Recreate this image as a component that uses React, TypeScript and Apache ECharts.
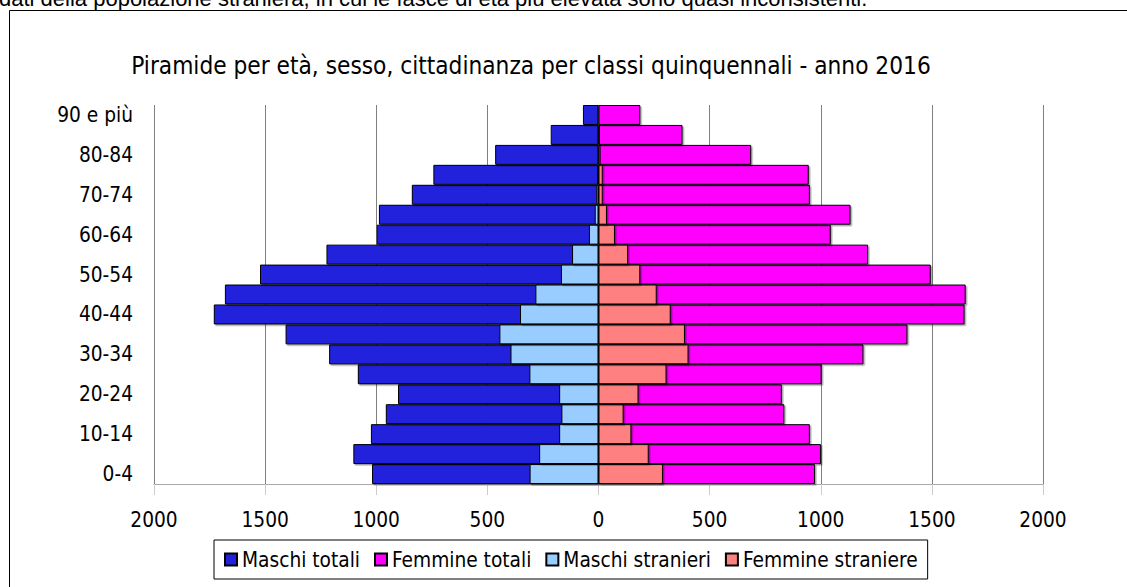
import React, { useEffect, useRef } from 'react';
import * as echarts from 'echarts';

const categories = ['0-4', '5-9', '10-14', '15-19', '20-24', '25-29', '30-34', '35-39', '40-44', '45-49', '50-54', '55-59', '60-64', '65-69', '70-74', '75-79', '80-84', '85-89', '90 e più'];
const maschiTotali = [1019, 1103, 1024, 957, 902, 1083, 1212, 1408, 1731, 1681, 1523, 1224, 998, 988, 840, 743, 465, 215, 70];
const femmineTotali = [974, 1001, 951, 836, 825, 1004, 1192, 1390, 1647, 1652, 1495, 1213, 1045, 1134, 951, 946, 687, 378, 188];
const maschiStranieri = [310, 267, 177, 167, 177, 311, 396, 446, 353, 284, 169, 119, 43, 17, 10, 5, 3, 2, 1];
const femmineStraniere = [290, 226, 148, 113, 180, 306, 405, 389, 325, 262, 188, 133, 74, 38, 19, 19, 9, 5, 2];
const seriesNames = ['Maschi totali', 'Femmine totali', 'Maschi stranieri', 'Femmine straniere'];
const seriesColors = ['#2222dd', '#ff00ff', '#99ccff', '#ff8080'];
const titleText = 'Piramide per età, sesso, cittadinanza per classi quinquennali - anno 2016';
const introText = 'dati della popolazione straniera, in cui le fasce di età più elevata sono quasi inconsistenti.';

export default function App() {
  const ref = useRef<HTMLDivElement>(null);
  useEffect(() => {
    const chart = echarts.init(ref.current as HTMLDivElement, null, { renderer: 'svg' });
    const font = "'DejaVu Sans Condensed', 'DejaVu Sans', sans-serif";
    const fs = 20.7;
    const dataSets = [
      maschiTotali.map((v) => -v),
      femmineTotali,
      maschiStranieri.map((v) => -v),
      femmineStraniere,
    ];
    chart.setOption({
      animation: false,
      textStyle: { fontFamily: font },
      graphic: [
        {
          type: 'rect',
          silent: true,
          shape: { x: 9.5, y: 10.5, width: 1200, height: 700 },
          style: { fill: 'none', stroke: '#000', lineWidth: 1 },
        },
        {
          type: 'text',
          x: -1,
          y: -1.5,
          style: { text: introText, fontFamily: "'Liberation Sans', Arial, sans-serif", fontSize: 22, fill: '#000', verticalAlign: 'middle' },
        },
        {
          type: 'text',
          x: 531,
          y: 66,
          style: { text: titleText, fontFamily: font, fontSize: 24.2, fill: '#000', align: 'center', verticalAlign: 'middle' },
        },
      ],
      legend: {
        data: seriesNames,
        left: 214,
        top: 540,
        orient: 'horizontal',
        icon: 'rect',
        itemWidth: 12,
        itemHeight: 12,
        itemGap: 14,
        padding: [9, 10],
        borderColor: '#000',
        borderWidth: 1,
        backgroundColor: '#fff',
        textStyle: { fontSize: fs, color: '#000', fontFamily: font },
      },
      grid: { left: 154, right: 84, top: 105, bottom: 103, containLabel: false },
      xAxis: {
        type: 'value',
        min: -2000,
        max: 2000,
        interval: 500,
        axisLine: { show: true, onZero: false, lineStyle: { color: '#aaaaaa', width: 1 } },
        axisTick: { show: true, length: 11, lineStyle: { color: '#cccccc' } },
        axisLabel: { formatter: (v: number) => String(Math.abs(v)), fontSize: fs, color: '#000', margin: 25, fontFamily: font },
        splitLine: { show: true, lineStyle: { color: '#808080', width: 1 } },
      },
      yAxis: {
        type: 'category',
        data: categories,
        axisLine: { show: false, onZero: false },
        axisTick: { show: false },
        axisLabel: { interval: 1, fontSize: fs, color: '#000', margin: 21, fontFamily: font },
        splitLine: { show: false },
      },
      series: seriesNames.map((name, i) => ({
        name,
        type: 'bar',
        data: dataSets[i],
        barGap: '-100%',
        barCategoryGap: '0%',
        itemStyle: {
          color: seriesColors[i],
          borderColor: '#000',
          borderWidth: 1,
          shadowColor: 'rgba(0,0,0,0.35)',
          shadowOffsetX: 1.5,
          shadowOffsetY: 1.5,
          shadowBlur: 1,
        },
        emphasis: { disabled: true },
      })),
    });
    return () => chart.dispose();
  }, []);
  return <div ref={ref} style={{ position: 'absolute', left: 0, top: 0, width: 1127, height: 587 }} />;
}
